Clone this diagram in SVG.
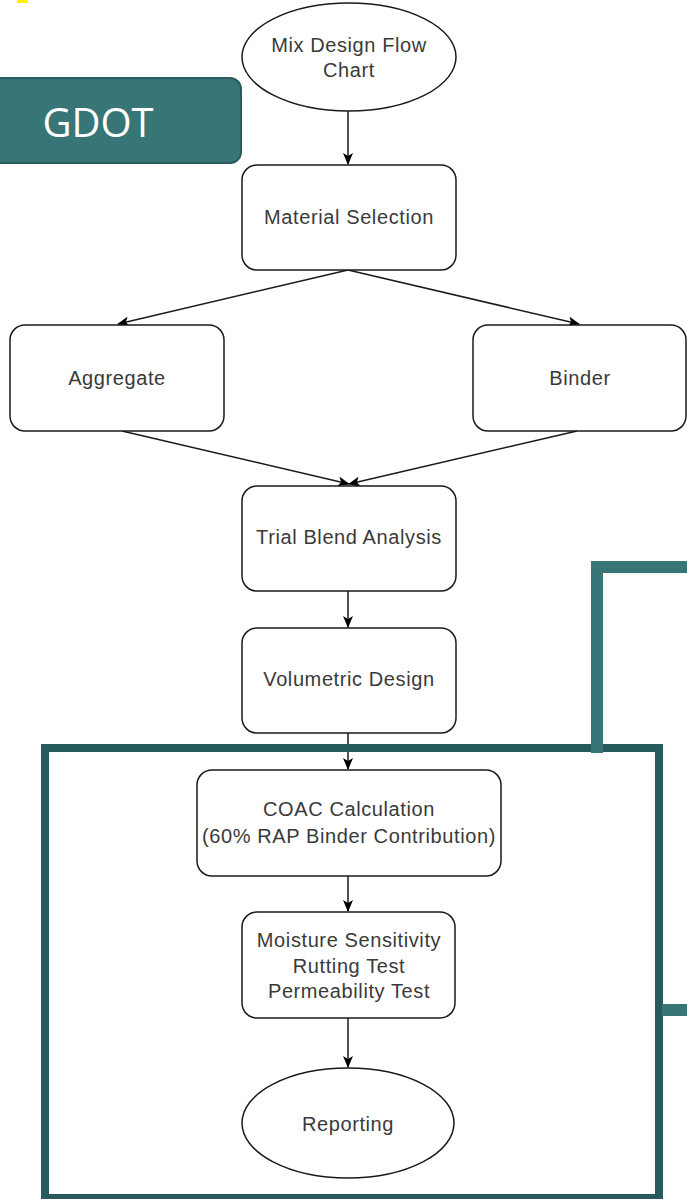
<svg xmlns="http://www.w3.org/2000/svg" width="687" height="1199" viewBox="0 0 687 1199">
<defs>
<style>
.n{fill:#fff;stroke:#1a1a1a;stroke-width:1.5}
.t{font-family:"Liberation Sans",Arial,sans-serif;font-size:20px;letter-spacing:0.6px;fill:#3a3a3a;text-anchor:middle}
.c{fill:none;stroke:#1a1a1a;stroke-width:1.5}
.frame{fill:none;stroke:#275a5c;stroke-width:8}
.accent{fill:none;stroke:#377577;stroke-width:12}
</style>
<marker id="ah" viewBox="0 0 12 10" refX="11" refY="5" markerWidth="12" markerHeight="10" markerUnits="userSpaceOnUse" orient="auto">
<path d="M0,0 L12,5 L0,10 L3,5 z" fill="#000"/>
</marker>
</defs>
<rect width="687" height="1199" fill="#fff"/>
<rect id="mark" x="17" y="0" width="11" height="3" fill="#fff200"/>
<g id="gdot">
<rect x="-20" y="78" width="261" height="85" rx="11" fill="#377577" stroke="#2a5b5d" stroke-width="2"/>
<text x="98" y="137" font-family="'Open Sans','Liberation Sans',sans-serif" font-size="40" fill="#fff" text-anchor="middle">GDOT</text>
</g>
<g id="connectors">
<line class="c" x1="348" y1="110" x2="348" y2="164" marker-end="url(#ah)"/>
<line class="c" x1="348" y1="270" x2="118" y2="324" marker-end="url(#ah)"/>
<line class="c" x1="348" y1="270" x2="579" y2="324" marker-end="url(#ah)"/>
<line class="c" x1="122" y1="431" x2="349" y2="484" marker-end="url(#ah)"/>
<line class="c" x1="577" y1="431" x2="349" y2="484" marker-end="url(#ah)"/>
<line class="c" x1="348" y1="591" x2="348" y2="627" marker-end="url(#ah)"/>
<line class="c" x1="348" y1="733" x2="348" y2="769" marker-end="url(#ah)"/>
<line class="c" x1="348" y1="876" x2="348" y2="911" marker-end="url(#ah)"/>
<line class="c" x1="348" y1="1018" x2="348" y2="1067" marker-end="url(#ah)"/>
</g>
<g id="start">
<ellipse class="n" cx="349" cy="57" rx="107" ry="54"/>
<text class="t" x="349" y="52">Mix Design Flow</text>
<text class="t" x="349" y="77">Chart</text>
</g>
<g id="material">
<rect class="n" x="242" y="165" width="214" height="105" rx="15"/>
<text class="t" x="349" y="224">Material Selection</text>
</g>
<g id="aggregate">
<rect class="n" x="10" y="325" width="214" height="106" rx="15"/>
<text class="t" x="117" y="385">Aggregate</text>
</g>
<g id="binder">
<rect class="n" x="473" y="325" width="213" height="106" rx="15"/>
<text class="t" x="580" y="385">Binder</text>
</g>
<g id="trial">
<rect class="n" x="242" y="486" width="214" height="105" rx="15"/>
<text class="t" x="349" y="544">Trial Blend Analysis</text>
</g>
<g id="volumetric">
<rect class="n" x="242" y="628" width="214" height="105" rx="15"/>
<text class="t" x="349" y="686">Volumetric Design</text>
</g>
<g id="coac">
<rect class="n" x="197" y="770" width="304" height="106" rx="15"/>
<text class="t" x="349" y="816">COAC Calculation</text>
<text class="t" x="349" y="843">(60% RAP Binder Contribution)</text>
</g>
<g id="tests">
<rect class="n" x="242" y="912" width="213" height="106" rx="15"/>
<text class="t" x="349" y="947">Moisture Sensitivity</text>
<text class="t" x="349" y="973">Rutting Test</text>
<text class="t" x="349" y="998">Permeability Test</text>
</g>
<g id="reporting">
<ellipse class="n" cx="348" cy="1123" rx="106" ry="55"/>
<text class="t" x="348" y="1131">Reporting</text>
</g>
<g id="highlight">
<rect class="frame" x="45" y="748" width="614" height="450"/>
<polyline class="accent" points="597,753 597,567 690,567"/>
<line class="accent" x1="662" y1="1010" x2="690" y2="1010"/>
</g>
</svg>
